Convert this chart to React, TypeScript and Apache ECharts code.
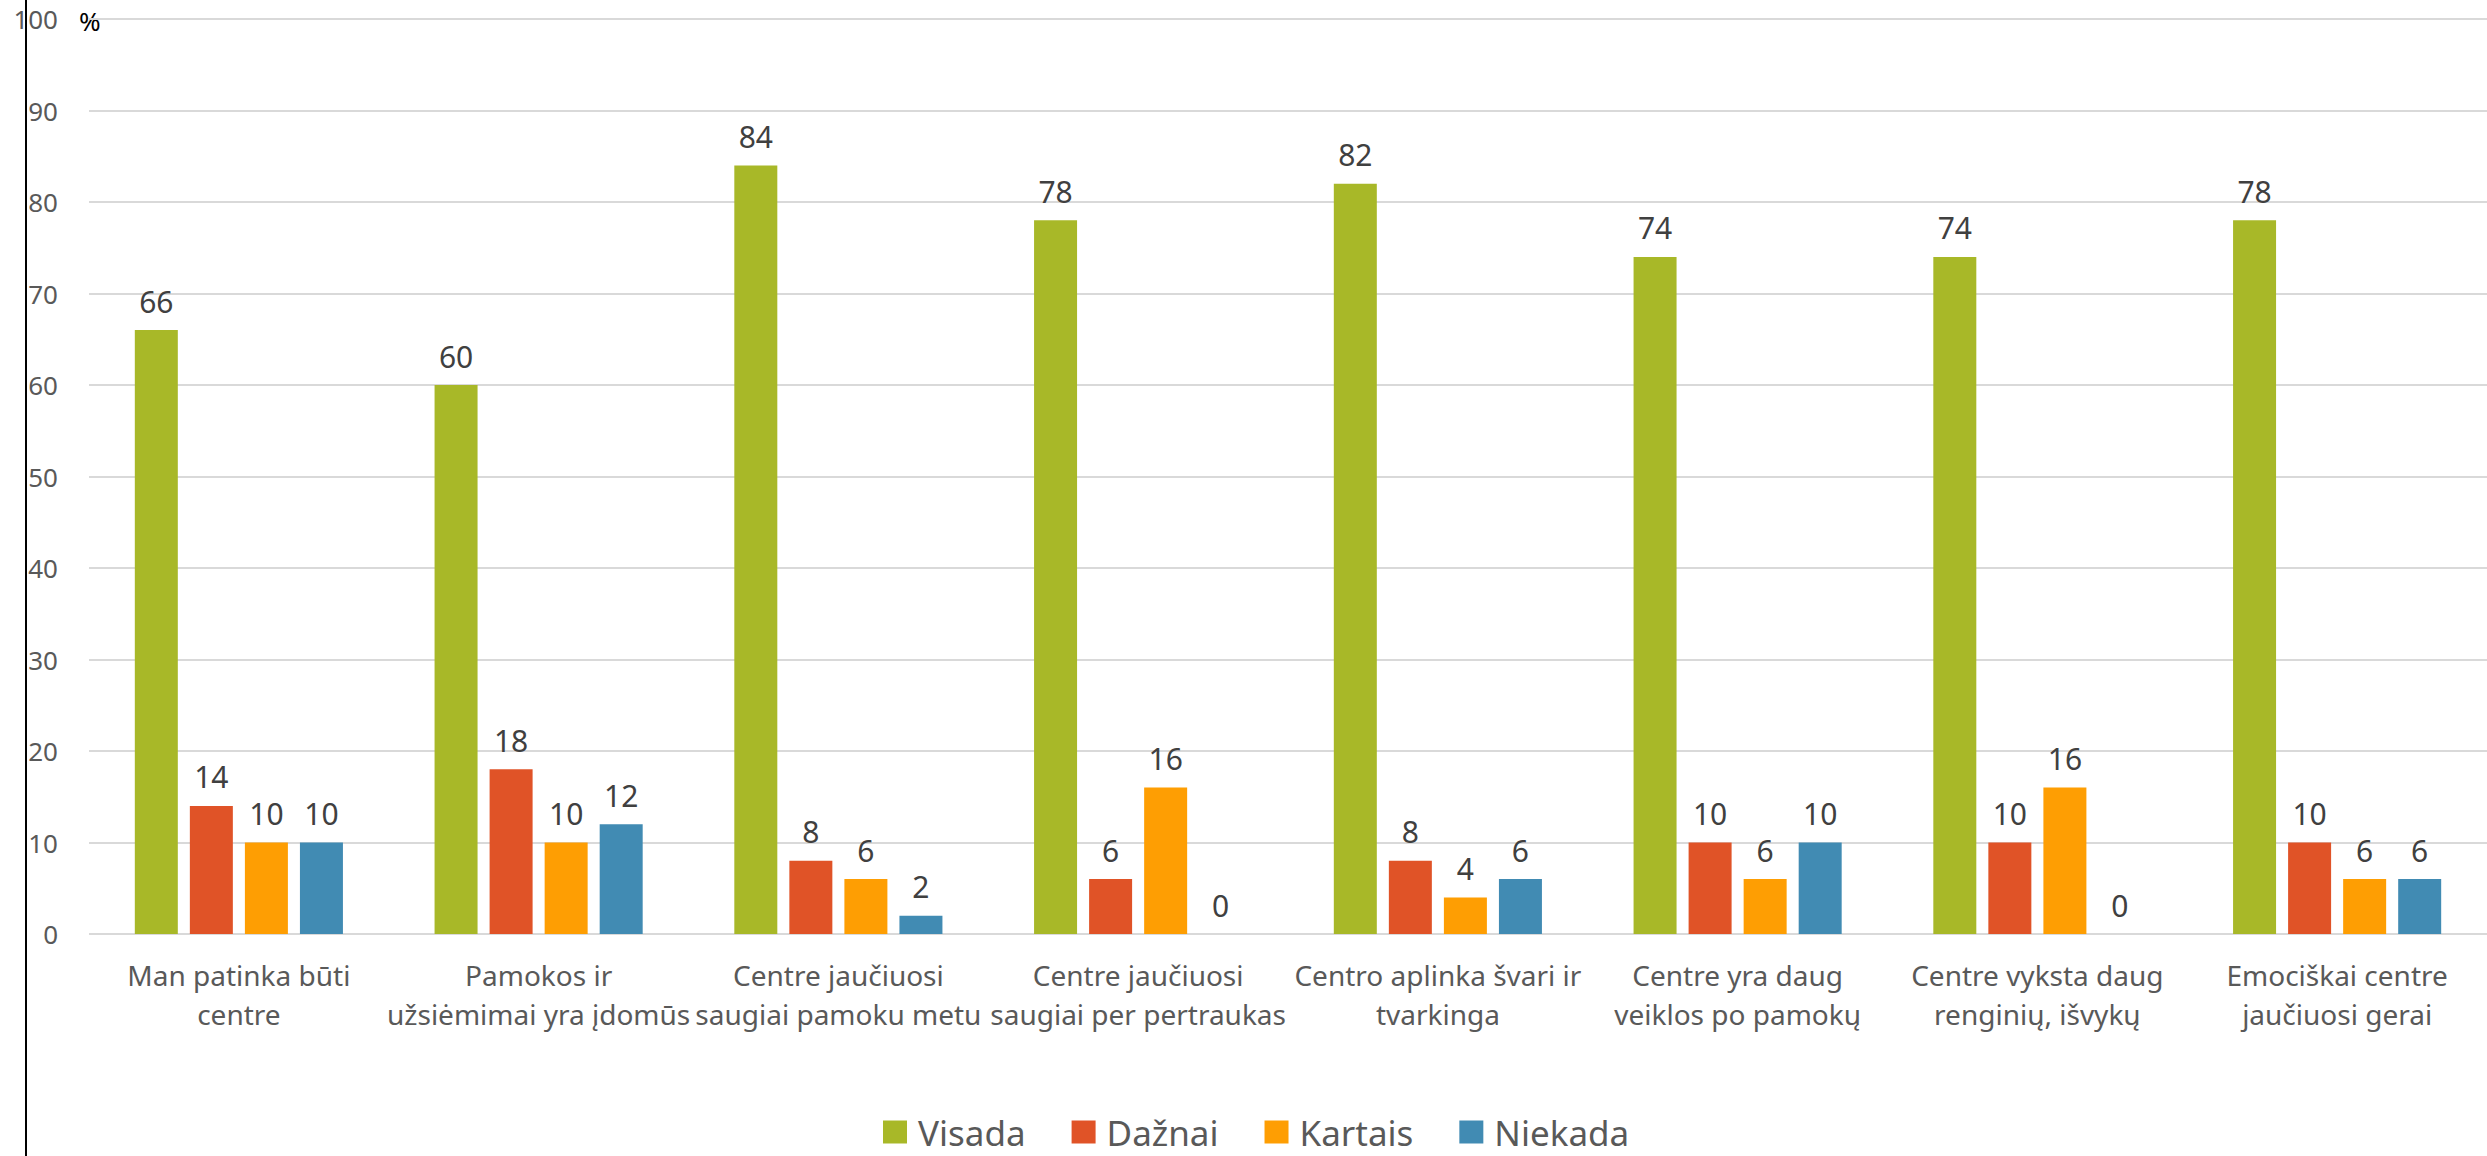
import React, { useEffect, useRef } from "react";
import * as echarts from "echarts";

const categories = [
  "Man patinka būti\ncentre",
  "Pamokos ir\nužsiėmimai yra įdomūs",
  "Centre jaučiuosi\nsaugiai pamoku metu",
  "Centre jaučiuosi\nsaugiai per pertraukas",
  "Centro aplinka švari ir\ntvarkinga",
  "Centre yra daug\nveiklos po pamokų",
  "Centre vyksta daug\nrenginių, išvykų",
  "Emociškai centre\njaučiuosi gerai",
];

const seriesNames = ["Visada", "Dažnai", "Kartais", "Niekada"];
const visada = [66, 60, 84, 78, 82, 74, 74, 78];
const daznai = [14, 18, 8, 6, 8, 10, 10, 10];
const kartais = [10, 10, 6, 16, 4, 6, 16, 6];
const niekada = [10, 12, 2, 0, 6, 10, 0, 6];
const colors = ["#A8B828", "#E05327", "#FE9E03", "#418BB3"];

const FONT = "'Noto Sans', 'DejaVu Sans', sans-serif";

export default function App() {
  const ref = useRef<HTMLDivElement>(null);

  useEffect(() => {
    if (!ref.current) return;
    const chart = echarts.init(ref.current, undefined, { renderer: "svg" });
    const values = [visada, daznai, kartais, niekada];
    chart.setOption({
      animation: false,
      backgroundColor: "#ffffff",
      textStyle: { fontFamily: FONT },
      grid: { left: 89, right: 0, top: 19, bottom: 222, containLabel: false },
      legend: {
        left: 883,
        top: 1114,
        padding: 0,
        itemWidth: 24,
        itemHeight: 23,
        itemGap: 46,
        icon: "rect",
        textStyle: {
          fontSize: 35,
          lineHeight: 36,
          color: "#595959",
          fontFamily: FONT,
          padding: [0, 0, 0, 6],
        },
        data: seriesNames,
      },
      xAxis: {
        type: "category",
        data: categories,
        axisLine: { show: false },
        axisTick: { show: false },
        axisLabel: {
          interval: 0,
          margin: 21,
          fontSize: 28,
          lineHeight: 39,
          color: "#595959",
          fontFamily: FONT,
        },
      },
      yAxis: {
        type: "value",
        min: 0,
        max: 100,
        interval: 10,
        axisLine: { show: false },
        axisTick: { show: false },
        splitLine: { lineStyle: { color: "#D9D9D9", width: 2 } },
        axisLabel: { margin: 31, fontSize: 26, color: "#595959", fontFamily: FONT },
      },
      series: seriesNames.map((name, i) => ({
        name,
        type: "bar",
        data: values[i],
        barWidth: 43,
        barGap: "28%",
        itemStyle: { color: colors[i] },
        label: {
          show: true,
          position: "top",
          distance: 14,
          fontSize: 30,
          color: "#404040",
          fontFamily: FONT,
        },
      })),
      graphic: [
        {
          type: "line",
          shape: { x1: 26, y1: 0, x2: 26, y2: 1156 },
          style: { stroke: "#000000", lineWidth: 2 },
        },
        {
          type: "text",
          x: 79,
          y: 8,
          style: { text: "%", fontSize: 26, fill: "#000000", fontFamily: FONT },
        },
      ],
    });
    return () => chart.dispose();
  }, []);

  return (
    <div
      ref={ref}
      style={{ position: "fixed", left: 0, top: 0, width: 2487, height: 1156, background: "#fff" }}
    />
  );
}
